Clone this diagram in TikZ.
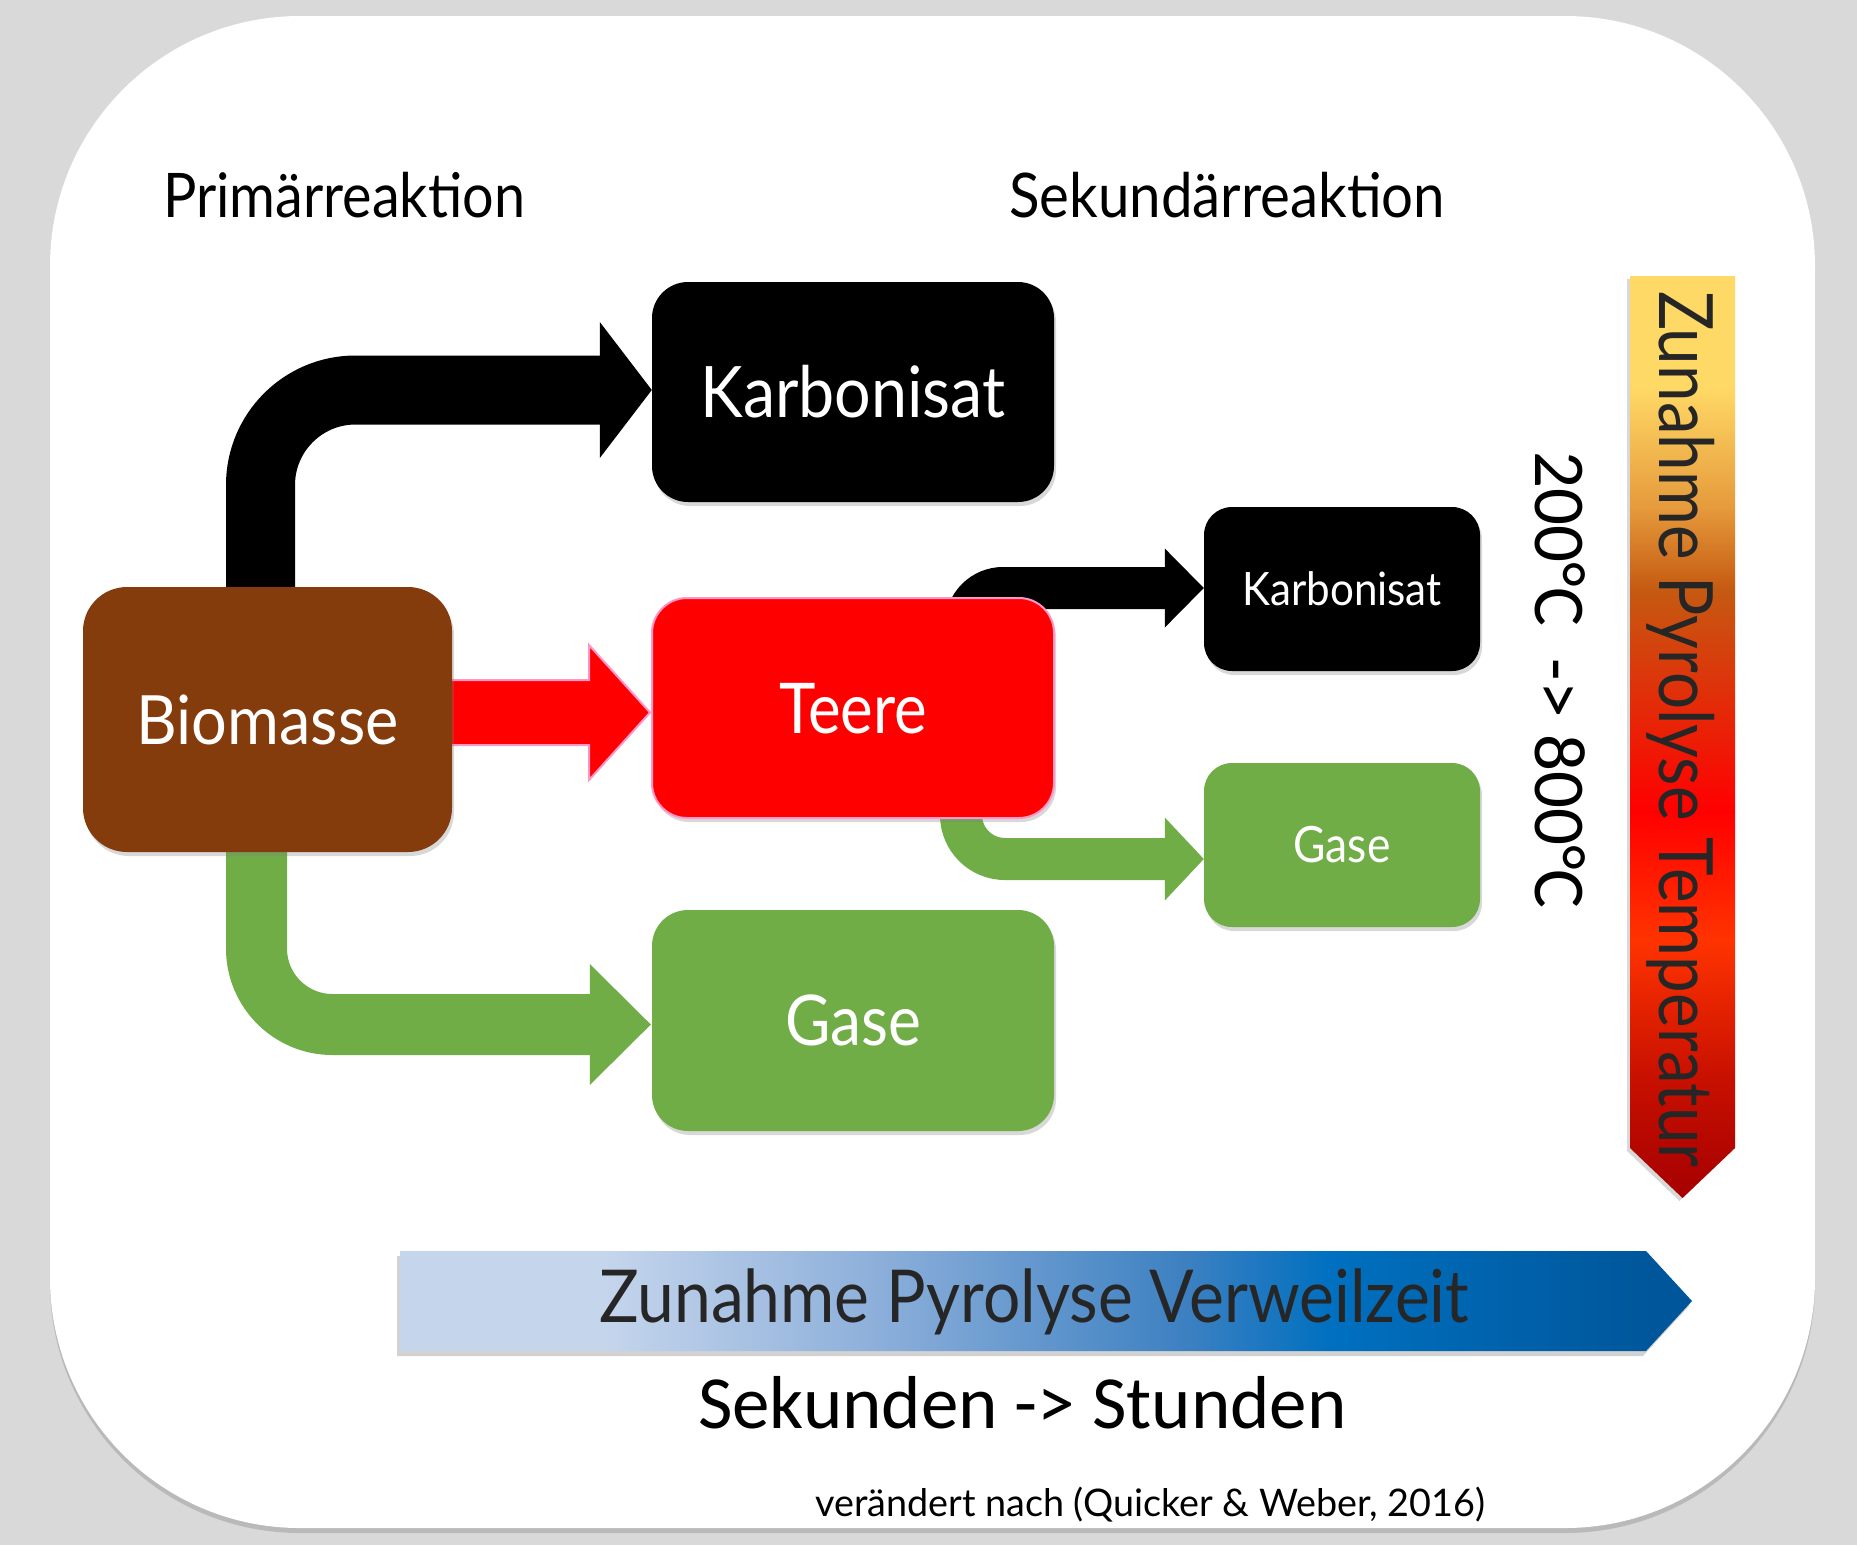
\documentclass[tikz,border=0pt]{standalone}
\usepackage{fontspec}
\usepackage{graphicx}
\usetikzlibrary{arrows.meta,calc,shadows}
\newfontfamily\condf{Lato}
\newfontfamily\calf{Carlito}
\definecolor{bggray}{RGB}{217,217,217}
\definecolor{biobrown}{RGB}{132,60,12}
\definecolor{grn}{RGB}{112,173,71}
\definecolor{pinkline}{RGB}{255,150,200}
\definecolor{txtdark}{RGB}{38,38,38}
\definecolor{tA}{RGB}{255,217,102}
\definecolor{tC}{RGB}{230,155,60}
\definecolor{tD}{RGB}{197,90,17}
\definecolor{tE}{RGB}{255,0,0}
\definecolor{tF}{RGB}{255,51,0}
\definecolor{tG}{RGB}{200,16,0}
\definecolor{tH}{RGB}{165,0,0}
\definecolor{bA}{RGB}{197,213,236}
\definecolor{bB}{RGB}{140,175,218}
\definecolor{bC}{RGB}{60,128,193}
\definecolor{bD}{RGB}{0,112,192}
\definecolor{bE}{RGB}{0,86,154}
\pgfdeclareverticalshading{tempgrad}{100bp}{color(0bp)=(tH); color(25bp)=(tH); color(31.5bp)=(tG); color(39bp)=(tF); color(46bp)=(tE); color(58bp)=(tD); color(62.5bp)=(tC); color(69bp)=(tA); color(75bp)=(tA); color(100bp)=(tA)}
\pgfdeclarehorizontalshading{timegrad}{100bp}{color(0bp)=(bA); color(25bp)=(bA); color(32.9bp)=(bA); color(43.5bp)=(bB); color(55.5bp)=(bC); color(61bp)=(bD); color(73.5bp)=(bE); color(75bp)=(bE); color(100bp)=(bE)}
\newlength\fitlen
\newcommand\fitw[2]{\settowidth\fitlen{#2}\pgfmathsetmacro\fitr{#1/\fitlen}\scalebox{\fitr}[1]{#2}}
\pgfdeclarelayer{bglayer}
\pgfdeclarelayer{arrowlayer}
\pgfsetlayers{bglayer,arrowlayer,main}
\begin{document}
\begin{tikzpicture}[x=1pt,y=-1pt,
  box/.style={inner sep=0pt, text=white, text depth=0pt,
    drop shadow={shadow xshift=2pt,shadow yshift=-4pt,opacity=0.3}},
  lbl/.style={inner sep=0pt, text depth=0pt},
  tipA/.style={-{Triangle[length=#1,line width=0pt]}}
  ]
\useasboundingbox (0,0) rectangle (1857,1545);
\begin{pgfonlayer}{bglayer}
\fill[bggray] (0,0) rectangle (1857,1545);
\fill[white, rounded corners=250pt, drop shadow={shadow xshift=0pt,shadow yshift=-5pt,opacity=0.35}] (50,16) rectangle (1815,1528);
\end{pgfonlayer}

% headings
\node[lbl, anchor=base west, font={\condf\fontsize{61.5}{62}\selectfont}] (prim) at (163,217) {\fitw{362pt}{Primärreaktion}};
\node[lbl, anchor=base west, font={\condf\fontsize{61.5}{62}\selectfont}] (sek) at (1009,217) {\fitw{436pt}{Sekundärreaktion}};

% boxes
\node[box, fill=biobrown, rounded corners=44pt, minimum width=369pt, minimum height=265pt, text height=49pt,
  font={\condf\fontsize{68}{68}\selectfont}] (bio) at (267.5,719.5) {\fitw{262pt}{Biomasse}};
\node[box, fill=black, rounded corners=36pt, minimum width=402pt, minimum height=220pt, text height=51pt,
  font={\condf\fontsize{71}{71}\selectfont}] (karb) at (853,392) {\fitw{305pt}{Karbonisat}};
\node[box, fill=red, draw=pinkline, line width=2pt, rounded corners=35pt, minimum width=402pt, minimum height=220pt, text height=50pt,
  font={\condf\fontsize{70}{70}\selectfont}] (teere) at (853,708) {\fitw{148pt}{Teere}};
\node[box, fill=grn, rounded corners=36pt, minimum width=402pt, minimum height=221pt, text height=50pt,
  font={\condf\fontsize{70}{70}\selectfont}] (gase) at (853,1020.5) {\fitw{136pt}{Gase}};
\node[box, fill=black, rounded corners=28pt, minimum width=276pt, minimum height=164pt, text height=33pt,
  font={\condf\fontsize{46}{46}\selectfont}] (karbb) at (1342,589) {\fitw{199pt}{Karbonisat}};
\node[box, fill=grn, rounded corners=28pt, minimum width=276pt, minimum height=164pt, text height=35pt,
  font={\condf\fontsize{50}{50}\selectfont}] (gaseb) at (1342,845) {\fitw{97pt}{Gase}};

% connectors
\begin{pgfonlayer}{arrowlayer}
\draw[line width=69pt, rounded corners=95pt, -{Triangle[length=52pt,width=136pt,line width=0pt]}]
  ($(bio.north)+(-7,20)$) |- ($(karb.west)+(0,-2)$);
\coordinate (rt) at ($(teere.west)+(-1,4.5)$);
\filldraw[fill=red, draw=pinkline, line width=2pt]
  ($(bio.east|-rt)+(-10,-32.5)$) -- ($(rt)+(-61,-32.5)$) -- ($(rt)+(-61,-67.5)$) -- (rt)
  -- ($(rt)+(-61,67.5)$) -- ($(rt)+(-61,32.5)$) -- ($(bio.east|-rt)+(-10,32.5)$) -- cycle;
\draw[grn, line width=61pt, rounded corners=76pt, -{Triangle[length=61pt,width=121pt,line width=0pt]}]
  ($(bio.south)+(-11,-20)$) |- ($(gase.west)+(-1,4)$);
\draw[line width=42pt, rounded corners=37pt, -{Triangle[length=39pt,width=79pt,line width=0pt]}]
  ($(teere.north)+(113,80)$) |- ($(karbb.west)+(0,-1)$);
\draw[grn, line width=42pt, rounded corners=44pt, -{Triangle[length=39pt,width=83pt,line width=0pt]}]
  ($(teere.south)+(108,-80)$) |- ($(gaseb.west)+(0,14)$);
\end{pgfonlayer}

% temperature arrow
\shade[shading=tempgrad, drop shadow={shadow xshift=-3pt,shadow yshift=-3pt,opacity=0.3}]
  (1630,276) -- (1735,276) -- (1735,1148) -- (1682.5,1198) -- (1630,1148) -- cycle;
\node[lbl, rotate=-90, text=txtdark, text height=54pt, font={\condf\fontsize{75}{75}\selectfont}] (ttemp) at (1686,729)
  {\fitw{876pt}{Zunahme Pyrolyse Temperatur}};
\node[lbl, rotate=-90, text=black, text height=47pt, font={\calf\fontsize{73}{73}\selectfont}] (trange) at (1559,680)
  {200°C~ -> 800°C};

% time arrow
\shade[shading=timegrad, drop shadow={shadow xshift=-3pt,shadow yshift=-5pt,opacity=0.35}]
  (400,1251) -- (1646,1251) -- (1692,1301) -- (1646,1351) -- (400,1351) -- cycle;
\node[lbl, anchor=base west, text=txtdark, font={\condf\fontsize{73}{73}\selectfont}] (tzeit) at (599,1322)
  {\fitw{870pt}{Zunahme Pyrolyse Verweilzeit}};
\node[lbl, anchor=base, font={\calf\fontsize{75}{75}\selectfont}] (sekstd) at (1022.5,1428) {Sekunden -> Stunden};
\node[lbl, anchor=base west, font={\condf\fontsize{38}{38}\selectfont}] (quelle) at (815,1516)
  {\fitw{670pt}{verändert nach (Quicker \& Weber, 2016)}};
\end{tikzpicture}
\end{document}
